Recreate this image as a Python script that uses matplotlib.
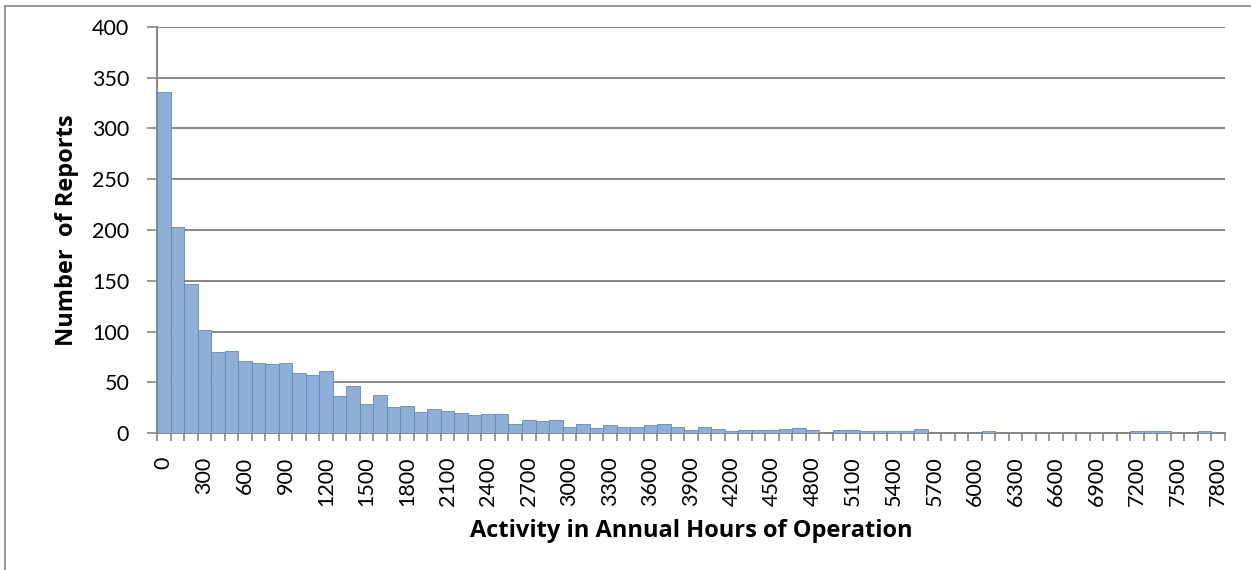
import numpy as np
import matplotlib.pyplot as plt
from matplotlib.lines import Line2D

# bins of 100 hours, 0 .. 7800
hours = np.arange(0, 7900, 100)
reports = [336, 203, 147, 101, 80, 81, 71, 69, 68, 69,
           59, 57, 61, 36, 46, 29, 37, 26, 27, 21,
           24, 22, 20, 18, 19, 19, 9, 13, 12, 13,
           6, 9, 5, 8, 6, 6, 8, 9, 6, 3,
           6, 4, 2, 3, 3, 3, 4, 5, 3, 0,
           3, 3, 2, 2, 2, 2, 4, 0, 0, 0,
           0, 2, 0, 0, 0, 0, 0, 0, 0, 0,
           0, 0, 2, 2, 2, 0, 0, 2, 0]
y_ticks = np.arange(0, 401, 50)

plt.rcParams['font.family'] = ['Lato', 'DejaVu Sans']
grey = '#868686'
label_font = {'family': 'Open Sans', 'weight': 'bold', 'size': 17}

fig = plt.figure(figsize=(12.51, 5.70), dpi=100)
ax = fig.add_axes([157/1251, 1-433/570, (1225-157)/1251, (433-27)/570])

x = np.arange(len(hours))
ax.bar(x, reports, width=1.0, color='#8FAFD7', edgecolor='#5B89C0', linewidth=0.6, zorder=3)

ax.set_xlim(-0.5, len(hours) - 0.5)
ax.set_ylim(0, 400)
ax.set_yticks(y_ticks)
ax.yaxis.grid(True, color=grey, linewidth=1.4, zorder=0)
ax.set_axisbelow(True)

# category labels every 3rd bin, tick marks between bins
ax.set_xticks(x[::3])
ax.set_xticklabels([str(h) for h in hours[::3]], rotation=90, fontsize=15.5)
ax.set_xticks(np.arange(-0.5, len(hours)), minor=True)
ax.tick_params(axis='x', which='major', length=0, pad=17)
ax.tick_params(axis='x', which='minor', length=6, width=1.2, color=grey)
ax.tick_params(axis='y', length=7, width=1.2, color=grey, labelsize=15.5, pad=13)

for s in ['top', 'right']:
    ax.spines[s].set_visible(False)
for s in ['left', 'bottom']:
    ax.spines[s].set_color(grey)
    ax.spines[s].set_linewidth(1.4)

ax.set_xlabel('Activity in Annual Hours of Operation', fontdict=label_font, labelpad=9)
ax.set_ylabel('Number  of Reports', fontdict=label_font, labelpad=9)

# outer chart border (only top and left are in view)
fig.add_artist(Line2D([5/1251, 1.0], [1-6/570, 1-6/570], transform=fig.transFigure, color=grey, lw=1.2))
fig.add_artist(Line2D([5/1251, 5/1251], [0.0, 1-6/570], transform=fig.transFigure, color=grey, lw=1.2))

fig.savefig('out.png', dpi=100)
